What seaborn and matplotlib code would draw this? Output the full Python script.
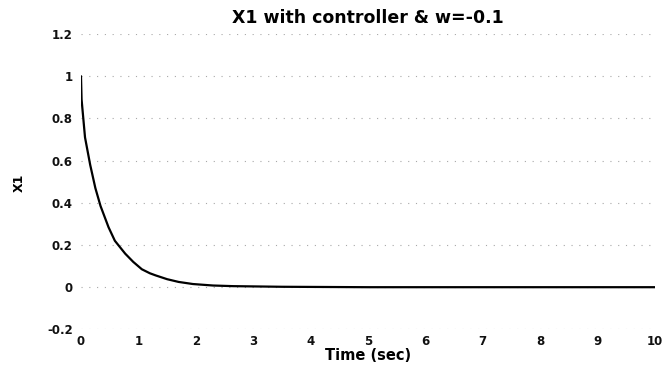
import matplotlib
matplotlib.use("Agg")
import matplotlib.pyplot as plt
import seaborn as sns
import pandas as pd

# State X1 response (time in seconds)
time_sec = [0.0, 0.01, 0.07, 0.16, 0.25, 0.34, 0.48, 0.59, 0.77, 0.91, 1.06,
            1.2, 1.3, 1.5, 1.7, 1.95, 2.3, 2.65, 3.5, 5.0, 6.0, 7.0, 8.0, 9.0, 10.0]
x1_values = [1.0, 0.89, 0.71, 0.58, 0.47, 0.385, 0.284, 0.22, 0.159, 0.12, 0.085,
             0.066, 0.056, 0.038, 0.025, 0.015, 0.008, 0.005, 0.002, 0.0, 0.0,
             0.0, 0.0, 0.0, 0.0]
x_ticks = [0, 1, 2, 3, 4, 5, 6, 7, 8, 9, 10]
y_ticks = [-0.2, 0, 0.2, 0.4, 0.6, 0.8, 1.0, 1.2]
y_tick_labels = ["-0.2", "0", "0.2", "0.4", "0.6", "0.8", "1", "1.2"]

df = pd.DataFrame({"t": time_sec, "x1": x1_values})

sns.set_theme(style="white")
plt.rcParams["font.family"] = ["DejaVu Sans"]
plt.rcParams["text.color"] = "black"

W, H = 666, 367
fig = plt.figure(figsize=(W / 100, H / 100), dpi=100)
left, right, top, bottom = 81, 655, 34, 329.4
ax = fig.add_axes([left / W, 1 - bottom / H, (right - left) / W, (bottom - top) / H])

sns.lineplot(data=df, x="t", y="x1", ax=ax, color="black", linewidth=1.6)

ax.set_xlim(0, 10)
ax.set_ylim(-0.2, 1.2)
ax.set_xticks(x_ticks)
ax.set_xticklabels([str(v) for v in x_ticks], fontsize=8.5, fontweight="bold")
ax.set_yticks(y_ticks)
ax.set_yticklabels(y_tick_labels, fontsize=8.5, fontweight="bold")
ax.tick_params(axis="x", length=0, pad=4, colors="#111111")
ax.tick_params(axis="y", length=0, pad=6, colors="#111111")

# horizontal dotted grid only
ax.grid(False)
ax.yaxis.grid(True, color="#a8a8a8", linestyle=(0, (1, 6)), linewidth=0.8)
for s in ax.spines.values():
    s.set_visible(False)

ax_h = bottom - top
ax_w = right - left
fig.text((left + right) / 2 / W, 1 - 18 / H, "X1 with controller & w=-0.1",
         ha="center", va="center", fontsize=12.5, fontweight="bold", color="black")
ax.set_xlabel("Time (sec)", fontsize=10.5, fontweight="bold", va="center", color="black")
ax.xaxis.set_label_coords(0.5, (bottom - 355) / ax_h)
ax.set_ylabel("X1", fontsize=9, fontweight="bold", va="center", color="black")
ax.yaxis.set_label_coords((19 - left) / ax_w, (bottom - 183) / ax_h)

fig.savefig("out.png", dpi=100, facecolor="white")
